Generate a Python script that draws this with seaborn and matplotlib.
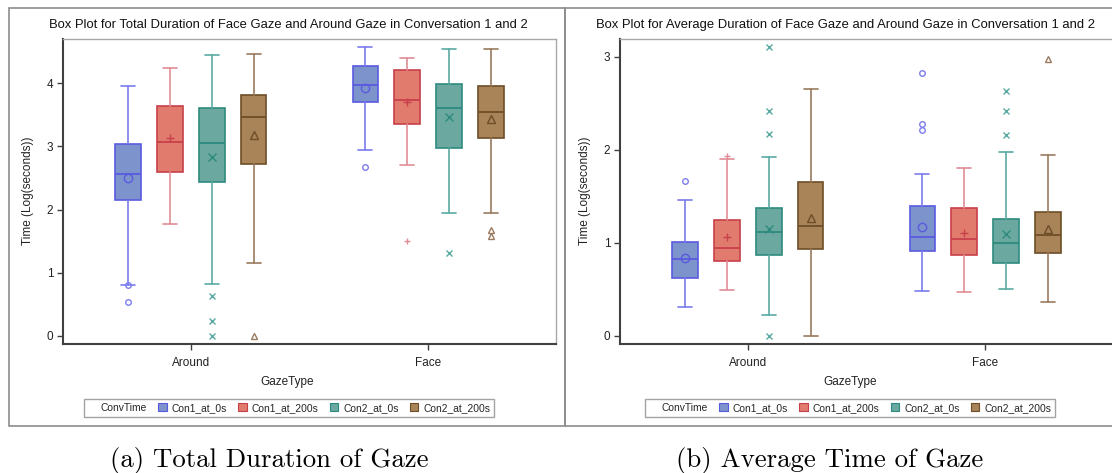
import matplotlib
matplotlib.use("Agg")
import matplotlib.pyplot as plt
import seaborn as sns
import numpy as np
from matplotlib.patches import Patch, Rectangle

# ---------------- data ----------------
groups = ["Around", "Face"]
series = ["Con1_at_0s", "Con1_at_200s", "Con2_at_0s", "Con2_at_200s"]

# Panel (a): total duration, values per series: [Around, Face]
tot_whislo = [[0.81, 2.95], [1.78, 2.71], [0.82, 1.95], [1.16, 1.95]]
tot_q1 = [[2.15, 3.71], [2.59, 3.35], [2.43, 2.98], [2.72, 3.13]]
tot_med = [[2.56, 3.97], [3.07, 3.73], [3.05, 3.61], [3.47, 3.54]]
tot_q3 = [[3.04, 4.27], [3.64, 4.21], [3.61, 3.98], [3.82, 3.96]]
tot_whishi = [[3.96, 4.57], [4.24, 4.40], [4.45, 4.54], [4.47, 4.54]]
tot_mean = [[2.50, 3.93], [3.14, 3.71], [2.83, 3.46], [3.18, 3.43]]
tot_out = [[[0.80, 0.54], [2.68]],
           [[], [1.51]],
           [[0.63, 0.23, 0.0], [1.31]],
           [[0.0], [1.67, 1.59]]]

# Panel (b): average duration
avg_whislo = [[0.31, 0.48], [0.49, 0.47], [0.23, 0.50], [0.0, 0.37]]
avg_q1 = [[0.62, 0.91], [0.81, 0.87], [0.87, 0.78], [0.93, 0.89]]
avg_med = [[0.83, 1.06], [0.94, 1.04], [1.12, 1.00], [1.18, 1.08]]
avg_q3 = [[1.01, 1.40], [1.25, 1.38], [1.38, 1.26], [1.65, 1.33]]
avg_whishi = [[1.46, 1.74], [1.90, 1.80], [1.92, 1.98], [2.65, 1.94]]
avg_mean = [[0.84, 1.17], [1.06, 1.11], [1.15, 1.10], [1.27, 1.15]]
avg_out = [[[1.66], [2.83, 2.28, 2.21]],
           [[1.93], []],
           [[0.0, 2.17, 2.42, 3.10], [2.63, 2.42, 2.16]],
           [[], [2.97]]]

title_a = "Box Plot for Total Duration of Face Gaze and Around Gaze in Conversation 1 and 2"
title_b = "Box Plot for Average Duration of Face Gaze and Around Gaze in Conversation 1 and 2"
caption_a = "(a) Total Duration of Gaze"
caption_b = "(b) Average Time of Gaze"

# ---------------- style ----------------
sns.set_theme(style="white")
plt.rcParams['font.family'] = ['Liberation Sans', 'DejaVu Sans']

fills = sns.color_palette(["#7D93CB", "#E07B6E", "#6AA8A0", "#A88458"])
edges = sns.color_palette(["#5A5AE0", "#C8404A", "#2E8A7E", "#6E4E28"])
whisk = sns.color_palette(["#7C7CEE", "#E08C96", "#5AAAA2", "#9A7A5E"])
markers = ["o", "+", "x", "^"]
offsets = [-0.265, -0.088, 0.088, 0.265]

W, H = 1112, 473
fig = plt.figure(figsize=(W / 100, H / 100), dpi=100)
fig.patch.set_facecolor("white")


def px_rect(l, t, r, b):
    return [l / W, 1 - b / H, (r - l) / W, (b - t) / H]


# panel borders
for (l, r) in [(9, 565), (565, 1140)]:
    fig.patches.append(Rectangle((l / W, 1 - 426 / H), (r - l) / W, (426 - 8) / H,
                                 transform=fig.transFigure, fill=False,
                                 edgecolor="#8C8C8C", lw=1.2))


def draw(ax, whislo, q1, med, q3, whishi, mean, out, ylim, yticks):
    for si in range(len(series)):
        for gi in range(len(groups)):
            st = dict(whislo=whislo[si][gi], q1=q1[si][gi], med=med[si][gi],
                      q3=q3[si][gi], whishi=whishi[si][gi], mean=mean[si][gi],
                      fliers=np.array(out[si][gi]), label="")
            ax.bxp([st], positions=[gi + offsets[si]], widths=0.107,
                   capwidths=0.06, patch_artist=True, showmeans=True,
                   boxprops=dict(facecolor=fills[si], edgecolor=edges[si], linewidth=1.2),
                   medianprops=dict(color=edges[si], linewidth=1.3),
                   whiskerprops=dict(color=whisk[si], linewidth=1.2),
                   capprops=dict(color=whisk[si], linewidth=1.2),
                   meanprops=dict(marker=markers[si], markerfacecolor="none",
                                  markeredgecolor=edges[si], markersize=6,
                                  markeredgewidth=1.0, linestyle="none"),
                   flierprops=dict(marker=markers[si], markerfacecolor="none",
                                   markeredgecolor=whisk[si], markersize=4,
                                   markeredgewidth=1.0, linestyle="none"))
    ax.set_xlim(-0.54, 1.54)
    ax.set_ylim(*ylim)
    ax.set_xticks(range(len(groups)))
    ax.set_xticklabels(groups)
    ax.set_yticks(yticks)
    ax.set_yticklabels([str(t) for t in yticks])
    ax.tick_params(axis="both", direction="out", length=4, width=1,
                   color="#404040", labelsize=8.5, labelcolor="#222222", pad=3,
                   left=True, bottom=True)
    ax.tick_params(axis="x", pad=5)
    for s in ["left", "bottom"]:
        ax.spines[s].set_color("#404040")
        ax.spines[s].set_linewidth(1.5)
    for s in ["top", "right"]:
        ax.spines[s].set_color("#A8A8A8")
        ax.spines[s].set_linewidth(1.0)
    ax.set_facecolor("white")
    ax.grid(False)


ax_a = fig.add_axes(px_rect(63, 39, 556, 344))
draw(ax_a, tot_whislo, tot_q1, tot_med, tot_q3, tot_whishi, tot_mean, tot_out,
     (-0.127, 4.70), [0, 1, 2, 3, 4])
ax_b = fig.add_axes(px_rect(620, 39, 1113, 344))
draw(ax_b, avg_whislo, avg_q1, avg_med, avg_q3, avg_whishi, avg_mean, avg_out,
     (-0.086, 3.19), [0, 1, 2, 3])

# titles, axis labels
fig.text(288 / W, 1 - 25 / H, title_a, ha="center", va="center", fontsize=9.4, color="#111111")
fig.text(845 / W, 1 - 25 / H, title_b, ha="center", va="center", fontsize=9.4, color="#111111")
for xc in (28, 585):
    fig.text(xc / W, 1 - 191 / H, "Time (Log(seconds))", rotation=90, ha="center",
             va="center", fontsize=8.5, color="#222222")
for xc in (287, 850):
    fig.text(xc / W, 1 - 382 / H, "GazeType", ha="center", va="center",
             fontsize=8.5, color="#222222")

# legends
handles = [Patch(facecolor="none", edgecolor="none")] + \
    [Patch(facecolor=fills[i], edgecolor=edges[i], linewidth=0.8) for i in range(4)]
labels = ["ConvTime"] + series
for xc in (289, 850):
    leg = fig.legend(handles, labels, loc="center", bbox_to_anchor=(xc / W, 1 - 408 / H),
                     ncol=5, fontsize=7.4, frameon=True, fancybox=False,
                     handlelength=0.8, handleheight=0.8, handletextpad=0.5,
                     columnspacing=1.1, borderpad=0.35, borderaxespad=0)
    leg.get_frame().set_edgecolor("#8C8C8C")
    leg.get_frame().set_linewidth(1.0)

# captions
fig.text(269 / W, 1 - 460 / H, caption_a, ha="center", va="center",
         fontsize=19.3, family="cmr10", color="black")
fig.text(830 / W, 1 - 460 / H, caption_b, ha="center", va="center",
         fontsize=19.3, family="cmr10", color="black")

fig.savefig("out.png", dpi=100)
